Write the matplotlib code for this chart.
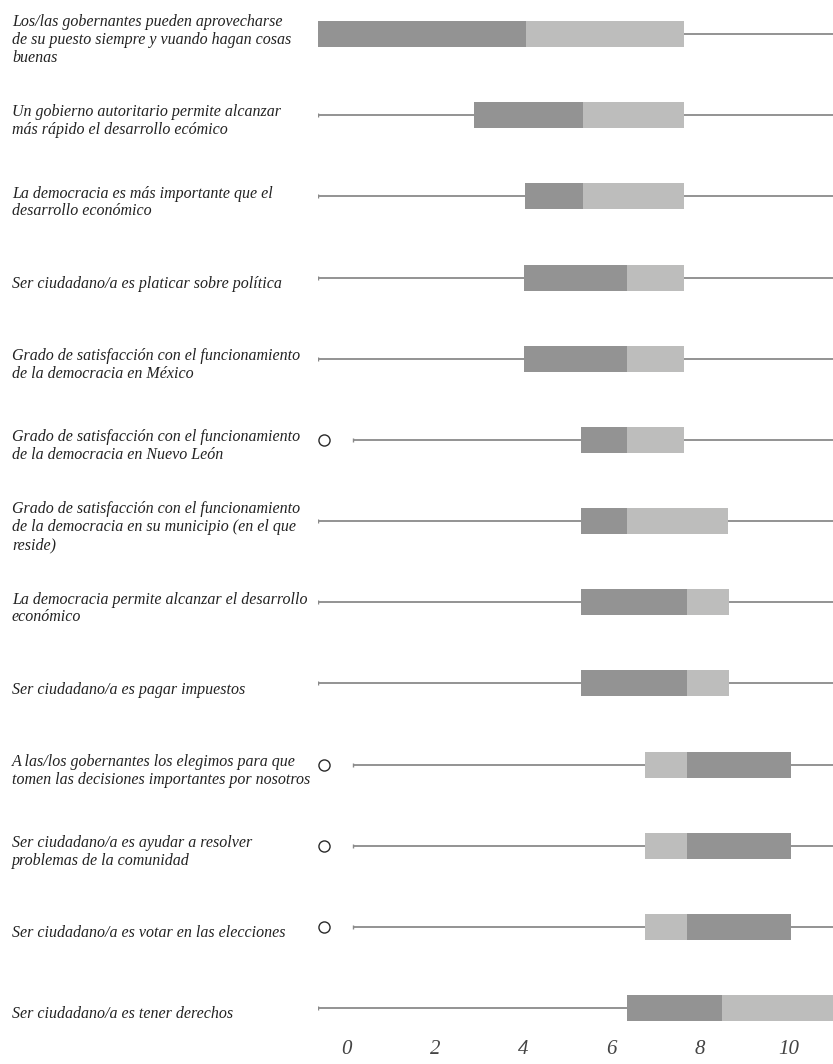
import matplotlib.pyplot as plt
import numpy as np

labels = [
    "Los/las gobernantes pueden aprovecharse\nde su puesto siempre y vuando hagan cosas\nbuenas",
    "Un gobierno autoritario permite alcanzar\nmás rápido el desarrollo ecómico",
    "La democracia es más importante que el\ndesarrollo económico",
    "Ser ciudadano/a es platicar sobre política",
    "Grado de satisfacción con el funcionamiento\nde la democracia en México",
    "Grado de satisfacción con el funcionamiento\nde la democracia en Nuevo León",
    "Grado de satisfacción con el funcionamiento\nde la democracia en su municipio (en el que\nreside)",
    "La democracia permite alcanzar el desarrollo\neconómico",
    "Ser ciudadano/a es pagar impuestos",
    "A las/los gobernantes los elegimos para que\ntomen las decisiones importantes por nosotros",
    "Ser ciudadano/a es ayudar a resolver\nproblemas de la comunidad",
    "Ser ciudadano/a es votar en las elecciones",
    "Ser ciudadano/a es tener derechos",
]

# values (x scale of the tick labels)
whisker_lo = [-0.65, -0.65, -0.65, -0.65, -0.65, 0.15, -0.65, -0.65, -0.65, 0.15, 0.15, 0.15, -0.65]
q1 = [-0.65, 2.88, 4.03, 4.02, 4.02, 5.31, 5.31, 5.31, 5.31, 6.74, 6.74, 6.74, 6.34]
median = [4.05, 5.34, 5.34, 6.34, 6.34, 6.34, 6.34, 7.69, 7.69, 7.69, 7.69, 7.69, 8.49]
q3 = [7.64, 7.64, 7.64, 7.64, 7.64, 7.64, 8.62, 8.65, 8.65, 10.06, 10.06, 10.06, 11.0]
whisker_hi = [11.0] * 13
outlier = [np.nan, np.nan, np.nan, np.nan, np.nan, -0.51, np.nan, np.nan, np.nan, -0.51, -0.51, -0.51, np.nan]

xticks = [0, 2, 4, 6, 8, 10]

dark = "#939393"
light = "#bdbdbc"
light_first = [False] * 9 + [True] * 3 + [False]

fig = plt.figure(figsize=(8.33, 10.64), dpi=100)
ax = fig.add_axes([317.7 / 833, 1 - 1030 / 1064, 1 - 317.7 / 833, 1030 / 1064])

y = np.arange(len(labels))
h = 0.32
for i in y:
    c1, c2 = (light, dark) if light_first[i] else (dark, light)
    ax.hlines(i, whisker_lo[i], q1[i], color="#8a8a8a", lw=1.3, zorder=1)
    ax.hlines(i, q3[i], whisker_hi[i], color="#8a8a8a", lw=1.3, zorder=1)
    ax.plot(whisker_lo[i], i, marker="|", ms=3, color="#8a8a8a", mew=1)
    ax.barh(i, median[i] - q1[i], left=q1[i], height=h, color=c1, zorder=2)
    ax.barh(i, q3[i] - median[i], left=median[i], height=h, color=c2, zorder=2)
    ax.plot(outlier[i], i, marker="o", ms=8, mfc="white", mec="#2a2a2a", mew=1.0)

ax.set_xlim(-0.65, 11.0)
ax.set_ylim(12.27, -0.419)
for s in ax.spines.values():
    s.set_visible(False)
ax.set_yticks([])
ax.set_xticks(xticks)
ax.set_xticklabels([str(t) for t in xticks], family="Liberation Serif", style="italic",
                   fontsize=15, color="#444444")
ax.tick_params(axis="x", length=0, pad=7)

for i, lab in enumerate(labels):
    fig.text(12 / 833, 1 - (34 + 81.2 * i + 6) / 1064, lab, ha="left", va="center",
             family="Liberation Serif", style="italic", fontsize=11.5, color="#222222",
             linespacing=1.15)

fig.savefig("out.png", dpi=100)
